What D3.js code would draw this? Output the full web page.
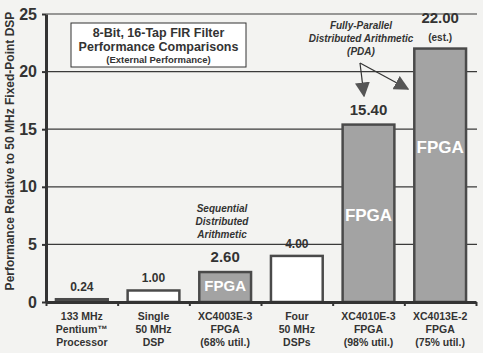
<!DOCTYPE html>
<html lang="en">
<head>
  <meta charset="utf-8">
  <title>FIR Filter Performance Comparisons</title>
  <script src="https://d3js.org/d3.v7.min.js"></script>
  <style>
    body { margin: 0; background: #f3f3f1; }
    svg { font-family: "Liberation Sans", Arial, sans-serif; }
    .axis path, .axis line { stroke: #333; }
    .axis text { font-weight: bold; fill: #333; }
  </style>
</head>
<body>
<svg id="chart" width="483" height="353"></svg>
<script>
  // data
  const categories = ["pentium", "dsp1", "xc4003", "dsp4", "xc4010", "xc4013"];
  const catLabels = [
    ["133 MHz", "Pentium\u2122", "Processor"],
    ["Single", "50 MHz", "DSP"],
    ["XC4003E-3", "FPGA", "(68% util.)"],
    ["Four", "50 MHz", "DSPs"],
    ["XC4010E-3", "FPGA", "(98% util.)"],
    ["XC4013E-2", "FPGA", "(75% util.)"]
  ];
  const values = [0.24, 1.00, 2.60, 4.00, 15.40, 22.00];
  const valueLabels = ["0.24", "1.00", "2.60", "4.00", "15.40", "22.00"];
  const isFpga = [false, false, true, false, true, true];
  const yTicks = [0, 5, 10, 15, 20, 25];

  const svg = d3.select("#chart");
  const plotLeft = 46, plotRight = 476, plotTop = 14, plotBottom = 302;

  const x = d3.scaleBand()
    .domain(categories)
    .range([plotLeft, plotRight])
    .paddingInner(0.25)
    .paddingOuter(0.125);

  const y = d3.scaleLinear()
    .domain([0, 25])
    .range([plotBottom, plotTop]);

  // gridlines
  svg.append("g")
    .selectAll("line")
    .data(yTicks.slice(1))
    .enter().append("line")
    .attr("x1", plotLeft)
    .attr("x2", plotRight + 1)
    .attr("y1", d => y(d))
    .attr("y2", d => y(d))
    .attr("stroke", "#3a3a3a")
    .attr("stroke-width", 1.2);

  // bars
  svg.append("g")
    .selectAll("rect")
    .data(values)
    .enter().append("rect")
    .attr("x", (d, i) => x(categories[i]) + 1)
    .attr("width", x.bandwidth() - 2)
    .attr("y", d => y(d))
    .attr("height", d => y(0) - y(d))
    .attr("fill", (d, i) => i === 0 ? "#555" : (isFpga[i] ? "#a3a3a3" : "#fff"))
    .attr("stroke", "#4a4a4a")
    .attr("stroke-width", 2.5);

  // FPGA text inside bars
  svg.append("g")
    .selectAll("text")
    .data(values.map((v, i) => ({ v, i })).filter(d => isFpga[d.i]))
    .enter().append("text")
    .attr("x", d => x(categories[d.i]) + x.bandwidth() / 2)
    .attr("y", d => d.i === 2 ? y(0) - 11 : (d.i === 4 ? y(7) : y(12.9)))
    .attr("text-anchor", "middle")
    .attr("fill", "#fff")
    .attr("font-weight", "bold")
    .attr("font-size", d => d.i === 2 ? "15px" : "17px")
    .text("FPGA");

  // value labels
  svg.append("g")
    .selectAll("text")
    .data(values)
    .enter().append("text")
    .attr("x", (d, i) => x(categories[i]) + x.bandwidth() / 2)
    .attr("y", (d, i) => i === 5 ? y(d) - 26 : y(d) - (isFpga[i] ? 10 : 8))
    .attr("text-anchor", "middle")
    .attr("fill", "#333")
    .attr("font-weight", "bold")
    .attr("font-size", (d, i) => isFpga[i] ? "15px" : "12px")
    .text((d, i) => valueLabels[i]);

  svg.append("text")
    .attr("x", x("xc4013") + x.bandwidth() / 2)
    .attr("y", y(22) - 8)
    .attr("text-anchor", "middle")
    .attr("fill", "#333")
    .attr("font-weight", "bold")
    .attr("font-size", "10px")
    .text("(est.)");

  // y axis
  svg.append("g")
    .attr("class", "axis")
    .attr("transform", "translate(" + plotLeft + ",0)")
    .call(d3.axisLeft(y).tickValues(yTicks).tickSize(4).tickSizeOuter(0))
    .call(g => g.select(".domain").attr("stroke-width", 3))
    .call(g => g.selectAll("line").attr("stroke-width", 2))
    .call(g => g.selectAll("text").attr("font-size", "16px").attr("x", -9));

  // x axis with ticks on band edges
  const edges = d3.scaleLinear().domain([0, categories.length]).range([plotLeft, plotRight]);
  svg.append("g")
    .attr("class", "axis")
    .attr("transform", "translate(0," + plotBottom + ")")
    .call(d3.axisBottom(edges).ticks(categories.length).tickFormat("").tickSize(4).tickSizeOuter(0))
    .call(g => g.select(".domain").attr("stroke-width", 3))
    .call(g => g.selectAll("line").attr("stroke-width", 2));

  // category labels
  const catG = svg.append("g")
    .selectAll("text")
    .data(catLabels)
    .enter().append("text")
    .attr("x", (d, i) => x(categories[i]) + x.bandwidth() / 2)
    .attr("y", 320)
    .attr("text-anchor", "middle")
    .attr("fill", "#333")
    .attr("font-weight", "bold")
    .attr("font-size", "10.5px");
  catG.selectAll("tspan")
    .data(d => d)
    .enter().append("tspan")
    .attr("x", function () { return d3.select(this.parentNode).attr("x"); })
    .attr("dy", (d, i) => i === 0 ? 0 : 13)
    .text(d => d);

  // y axis title
  svg.append("text")
    .attr("transform", "translate(14,151) rotate(-90)")
    .attr("text-anchor", "middle")
    .attr("fill", "#333")
    .attr("font-weight", "bold")
    .attr("font-size", "12px")
    .text("Performance Relative to 50 MHz Fixed-Point DSP");

  // title box
  svg.append("rect")
    .attr("x", 71).attr("y", 23)
    .attr("width", 175).attr("height", 44)
    .attr("fill", "#fff")
    .attr("stroke", "#333")
    .attr("stroke-width", 1);
  const title = [
    { t: "8-Bit, 16-Tap FIR Filter", y: 37, s: "12.5px" },
    { t: "Performance Comparisons", y: 51, s: "12.5px" },
    { t: "(External Performance)", y: 63, s: "9.5px" }
  ];
  svg.append("g")
    .selectAll("text")
    .data(title)
    .enter().append("text")
    .attr("x", 158.5)
    .attr("y", d => d.y)
    .attr("text-anchor", "middle")
    .attr("fill", "#333")
    .attr("font-weight", "bold")
    .attr("font-size", d => d.s)
    .text(d => d.t);

  // annotations
  const annot = (lines, cx, y0) => svg.append("g")
    .selectAll("text")
    .data(lines)
    .enter().append("text")
    .attr("x", cx)
    .attr("y", (d, i) => y0 + i * 13)
    .attr("text-anchor", "middle")
    .attr("fill", "#333")
    .attr("font-weight", "bold")
    .attr("font-style", "italic")
    .attr("font-size", "10px")
    .text(d => d);
  annot(["Fully-Parallel", "Distributed Arithmetic", "(PDA)"], 361, 29);
  annot(["Sequential", "Distributed", "Arithmetic"], 222, 212);

  // arrows
  const defs = svg.append("defs");
  defs.append("marker")
    .attr("id", "head")
    .attr("viewBox", "0 0 10 10")
    .attr("refX", 9).attr("refY", 5)
    .attr("markerWidth", 15).attr("markerHeight", 15)
    .attr("markerUnits", "userSpaceOnUse")
    .attr("orient", "auto")
    .append("path")
    .attr("d", "M0,0 L10,5 L0,10 Z")
    .attr("fill", "#555");
  [[364, 96], [408, 89]].forEach(p => {
    svg.append("line")
      .attr("x1", 360).attr("y1", 63)
      .attr("x2", p[0]).attr("y2", p[1])
      .attr("stroke", "#333")
      .attr("stroke-width", 1.2)
      .attr("marker-end", "url(#head)");
  });
</script>
</body>
</html>
